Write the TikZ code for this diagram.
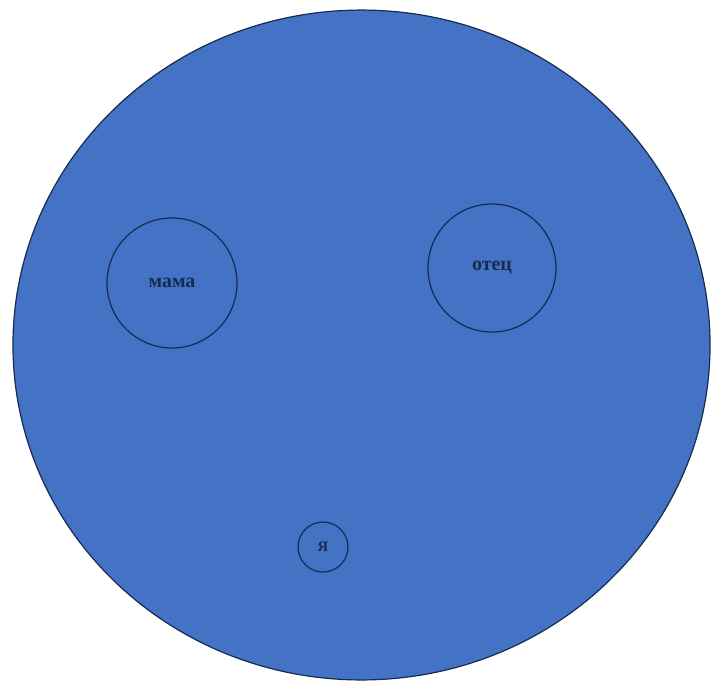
\documentclass[tikz,border=0pt]{standalone}
\usepackage{fontspec}
\setmainfont{Liberation Serif}
\usepackage{tikz}
\definecolor{semyablue}{HTML}{4472C4}
\definecolor{rimline}{HTML}{172C51}

\begin{document}
\begin{tikzpicture}[
                x=0.75pt, y=-0.75pt,
                every node/.style={circle, draw=rimline, line width=0.9pt, inner sep=0pt, text=rimline, font=\fontsize{15}{17}\selectfont\bfseries},
            ]
            \useasboundingbox (0,0) rectangle (713,682);

            % bolshoy krug
            \draw[fill=semyablue, draw=rimline, line width=0.9pt] (361.5,345) ellipse [x radius=261.4pt, y radius=251.2pt];

            % lyudi
            \node[minimum size=97.5pt] (mama) at (172,283) {мама};
            \node[minimum size=96pt] (otec) at (492,268) {отец};
            \node[minimum size=37.5pt, font=\fontsize{11}{13}\selectfont\bfseries] (ya) at (323,547) {Я};
        \end{tikzpicture}
\end{document}
